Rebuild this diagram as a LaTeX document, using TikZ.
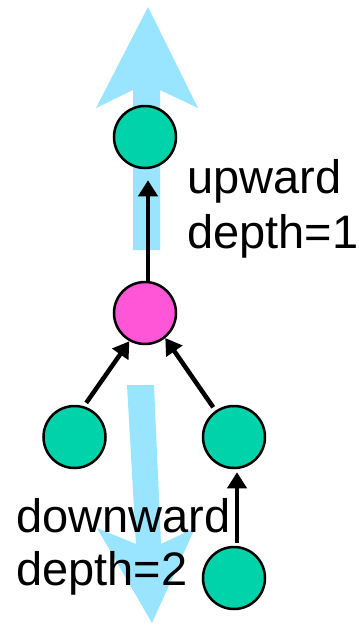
\documentclass[tikz,border=0pt]{standalone}
\usepackage{fontspec}
\setmainfont{Liberation Sans}
\usetikzlibrary{arrows.meta}
\definecolor{nodegreen}{RGB}{0,210,170}
\definecolor{nodepink}{RGB}{255,85,215}
\definecolor{flowblue}{RGB}{153,229,255}
\begin{document}
\begin{tikzpicture}[x=1pt,y=-1pt,
  vertex/.style={circle, draw=black, line width=2.5pt, minimum size=62pt, inner sep=0pt},
  lbl/.style={anchor=base west, inner sep=0pt, font=\fontsize{47}{55}\selectfont},
  conn/.style={line width=4.5pt, -{Triangle[length=16pt,width=19pt]}}]
\useasboundingbox[fill=white] (0,0) rectangle (359,625);
% broad flow arrows
\fill[flowblue] (148,7) -- (198,108) -- (160,90) -- (160,250) -- (133,250) -- (133,90) -- (96,108) -- cycle;
\fill[flowblue] (127,385) -- (154,385) -- (161,544) -- (195,528) -- (152,623) -- (97,528) -- (136,544) -- cycle;
% nodes
\node[vertex, fill=nodegreen] (top) at (145,137) {};
\node[vertex, fill=nodepink] (mid) at (145,313) {};
\node[vertex, fill=nodegreen] (left) at (74.5,437) {};
\node[vertex, fill=nodegreen] (right) at (234,437) {};
\node[vertex, fill=nodegreen] (bottom) at (234,578) {};
% labels
\node[lbl] (up) at (187,193) {upward};
\node[lbl] (upd) at (187,248) {depth=1};
\node[lbl] (down) at (16,532) {downward};
\node[lbl] (downd) at (16,585) {depth=2};
% connectors
\draw[conn, shorten >=11pt] ([xshift=3pt]mid.north) -- ([xshift=3pt]top.south);
\draw[conn, shorten <=4pt] (left.73) -- (mid.241);
\draw[conn, shorten <=4pt] (right.125) -- (mid.309);
\draw[conn, shorten <=3pt, shorten >=3pt] ([xshift=3pt]bottom.north) -- ([xshift=3pt]right.south);
\end{tikzpicture}
\end{document}
